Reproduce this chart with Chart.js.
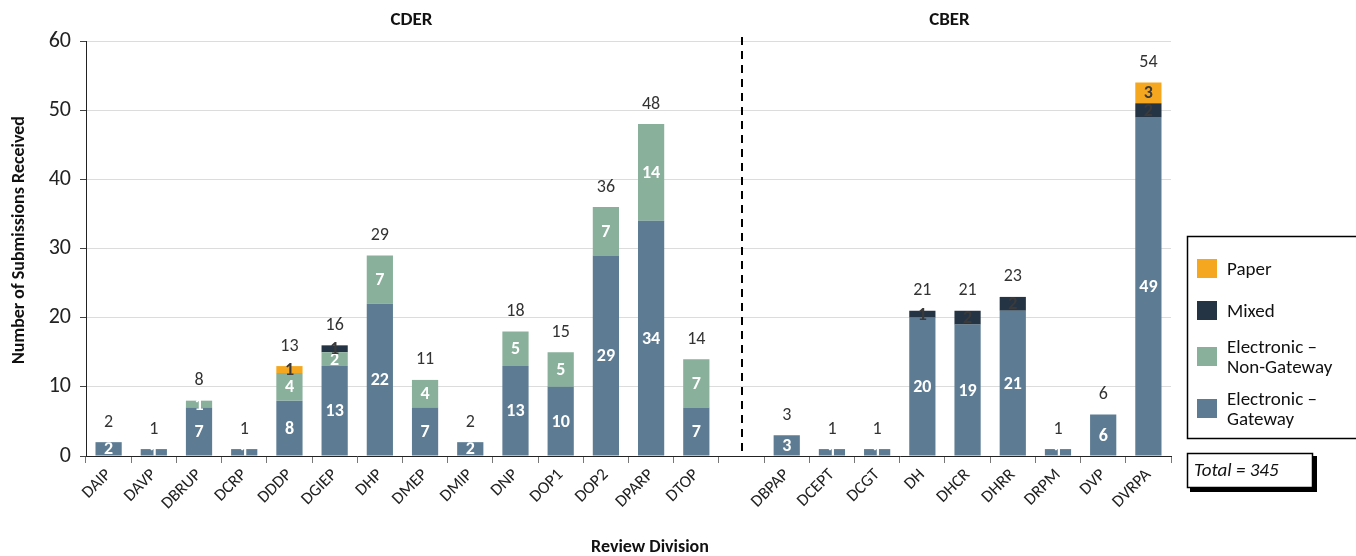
<!DOCTYPE html>
<html>
<head>
<meta charset="utf-8">
<script src="https://cdn.jsdelivr.net/npm/chart.js@4/dist/chart.umd.min.js"></script>
<style>
  html, body { margin: 0; padding: 0; background: #fff; }
  #wrap { width: 1356px; height: 556px; position: relative; }
</style>
</head>
<body>
<div id="wrap"><canvas id="c" width="1356" height="556"></canvas></div>
<script>
// ---- data ----
const categories = ['DAIP','DAVP','DBRUP','DCRP','DDDP','DGIEP','DHP','DMEP','DMIP','DNP','DOP1','DOP2','DPARP','DTOP','',
                    'DBPAP','DCEPT','DCGT','DH','DHCR','DHRR','DRPM','DVP','DVRPA'];
const gateway    = [2,1,7,1,8,13,22,7,2,13,10,29,34,7,null, 3,1,1,20,19,21,1,6,49];
const nonGateway = [null,null,1,null,4,2,7,4,null,5,5,7,14,7,null, null,null,null,null,null,null,null,null,null];
const mixed      = [null,null,null,null,null,1,null,null,null,null,null,null,null,null,null, null,null,null,1,2,2,null,null,2];
const paper      = [null,null,null,null,1,null,null,null,null,null,null,null,null,null,null, null,null,null,null,null,null,null,null,3];
const groupNames = ['CDER','CBER'];
const separatorIndex = 14;
const yMax = 60, yStep = 10;
const totalText = 'Total = 345';

const FONT = 'Carlito, Lato, "Open Sans", sans-serif';
const colors = { gateway:'#5d7c93', nonGateway:'#88b09a', mixed:'#253444', paper:'#f5a81f' };

const totals = categories.map((_, i) =>
  [gateway, nonGateway, mixed, paper].reduce((s, a) => s + (a[i] || 0), 0));

const extras = {
  id: 'extras',
  afterDatasetsDraw(chart) {
    const ctx = chart.ctx;
    const xs = chart.scales.x, ys = chart.scales.y;
    const area = chart.chartArea;
    ctx.save();
    // segment labels
    chart.data.datasets.forEach((ds, di) => {
      const meta = chart.getDatasetMeta(di);
      meta.data.forEach((bar, i) => {
        const v = ds.data[i];
        if (v == null || v === 0) return;
        const dark = ds.labelDark;
        ctx.save();
        if (ds.clipLabel) {
          const w = bar.width;
          ctx.beginPath();
          ctx.rect(bar.x - w/2, Math.min(bar.y, bar.base), w, Math.abs(bar.base - bar.y));
          ctx.clip();
        }
        ctx.font = (dark ? '600 ' : 'bold ') + '18px ' + FONT;
        ctx.fillStyle = dark ? '#3a3a3a' : '#ffffff';
        ctx.textAlign = 'center';
        ctx.textBaseline = 'middle';
        ctx.fillText(String(v), bar.x, (bar.y + bar.base) / 2 + 1);
        ctx.restore();
      });
    });
    // totals
    ctx.font = '18px ' + FONT;
    ctx.fillStyle = '#333';
    ctx.textAlign = 'center';
    ctx.textBaseline = 'middle';
    totals.forEach((t, i) => {
      if (!t) return;
      ctx.fillText(String(t), xs.getPixelForValue(i), ys.getPixelForValue(t) - 20);
    });
    // dashed separator
    const sx = Math.round(xs.getPixelForValue(separatorIndex));
    ctx.strokeStyle = '#000';
    ctx.lineWidth = 2;
    ctx.setLineDash([8, 6]);
    ctx.beginPath();
    ctx.moveTo(sx, area.top - 4);
    ctx.lineTo(sx, area.bottom);
    ctx.stroke();
    ctx.setLineDash([]);
    // group titles
    ctx.font = 'bold 19px ' + FONT;
    ctx.fillStyle = '#111';
    ctx.fillText(groupNames[0], xs.getPixelForValue(6.7), 20);
    ctx.fillText(groupNames[1], xs.getPixelForValue(18.6), 20);
    // axis titles
    ctx.font = 'bold 18px ' + FONT;
    ctx.fillText('Review Division', 650, 547);
    ctx.save();
    ctx.translate(19, 240);
    ctx.rotate(-Math.PI / 2);
    ctx.fillText('Number of Submissions Received', 0, 0);
    ctx.restore();
    // legend box
    ctx.strokeStyle = '#000';
    ctx.lineWidth = 1.5;
    ctx.strokeRect(1187.5, 236.5, 175, 202);
    const items = [
      { c: colors.paper, lines: ['Paper'], y: 269 },
      { c: colors.mixed, lines: ['Mixed'], y: 311 },
      { c: colors.nonGateway, lines: ['Electronic \u2013', 'Non-Gateway'], y: 357 },
      { c: colors.gateway, lines: ['Electronic \u2013', 'Gateway'], y: 409 },
    ];
    ctx.font = '19px ' + FONT;
    ctx.textAlign = 'left';
    ctx.fillStyle = '#111';
    items.forEach(it => {
      ctx.fillStyle = it.c;
      ctx.fillRect(1197, it.y - 10, 20, 19);
      ctx.fillStyle = '#111';
      const n = it.lines.length;
      it.lines.forEach((ln, k) => {
        ctx.fillText(ln, 1227, it.y + (k - (n - 1) / 2) * 20 + 1);
      });
    });
    // total box with shadow
    ctx.fillStyle = '#000';
    ctx.fillRect(1190, 456, 127, 36);
    ctx.fillStyle = '#fff';
    ctx.fillRect(1187, 453, 126, 35);
    ctx.strokeStyle = '#000';
    ctx.lineWidth = 1.5;
    ctx.strokeRect(1187.5, 453.5, 125, 34);
    ctx.fillStyle = '#111';
    ctx.font = 'italic 19px ' + FONT;
    ctx.fillText(totalText, 1194, 471);
    ctx.restore();
  }
};

function mk(label, data, color, extra) {
  return Object.assign({
    label, data, backgroundColor: color,
    borderWidth: 0,
    barPercentage: 0.58, categoryPercentage: 1.0, stack: 's'
  }, extra || {});
}

new Chart(document.getElementById('c'), {
  type: 'bar',
  data: {
    labels: categories,
    datasets: [
      mk('Electronic \u2013 Gateway', gateway, colors.gateway, { clipLabel: true }),
      mk('Electronic \u2013 Non-Gateway', nonGateway, colors.nonGateway),
      mk('Mixed', mixed, colors.mixed, { labelDark: true }),
      mk('Paper', paper, colors.paper, { labelDark: true }),
    ]
  },
  options: {
    responsive: false,
    animation: false,
    layout: { padding: { top: 41, right: 185, left: 0, bottom: 0 } },
    plugins: { legend: { display: false }, tooltip: { enabled: false } },
    scales: {
      x: {
        stacked: true,
        afterFit(s) { s.height = 100; },
        grid: { offset: true, drawOnChartArea: false, drawTicks: true, tickLength: 7, tickColor: '#777' },
        border: { color: '#222', width: 1 },
        ticks: { autoSkip: false, maxRotation: 45, minRotation: 45, padding: 2,
                 font: { family: FONT, size: 17 }, color: '#222' }
      },
      y: {
        stacked: true,
        min: 0, max: yMax,
        afterFit(s) { s.width = 86; },
        grid: { color: '#dcdcdc', tickLength: 6, tickColor: '#444' },
        border: { color: '#222', width: 1 },
        ticks: { stepSize: yStep, padding: 9, font: { family: FONT, size: 22 }, color: '#222' }
      }
    }
  },
  plugins: [extras]
});
</script>
</body>
</html>
